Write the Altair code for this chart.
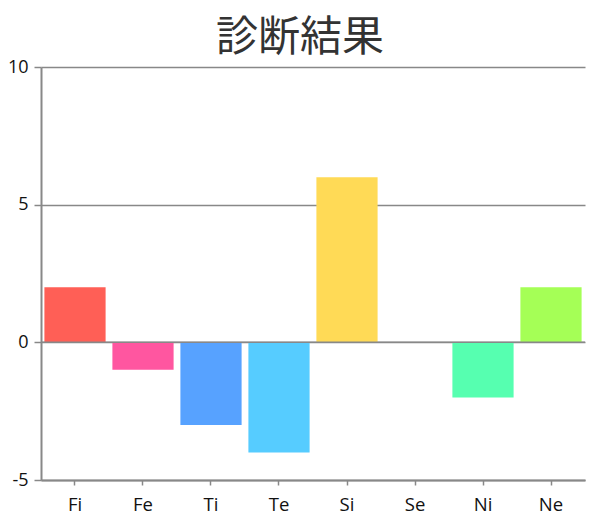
import altair as alt
import pandas as pd

categories = ["Fi", "Fe", "Ti", "Te", "Si", "Se", "Ni", "Ne"]
values = [2, -1, -3, -4, 6, 0, -2, 2]
colors = ["#FF5F56", "#FF56A0", "#57A2FF", "#56CCFF", "#FFDA56", "#B056FF", "#56FFB0", "#A5FF56"]
y_ticks = [-5, 0, 5, 10]
title_text = "診断結果"

df = pd.DataFrame({"cat": categories, "val": values})
zero = pd.DataFrame({"z": [0]})

x_enc = alt.X(
    "cat:N",
    sort=categories,
    title=None,
    scale=alt.Scale(paddingInner=0.1, paddingOuter=0.05),
    axis=alt.Axis(
        labelAngle=0,
        labelFont="Open Sans",
        labelFontSize=18.5,
        labelColor="#111111",
        labelPadding=10,
        tickSize=5,
        tickColor="#888888",
        tickWidth=1.5,
        domainColor="#888888",
        domainWidth=2,
        grid=False,
    ),
)

bars = alt.Chart(df).mark_bar().encode(
    x=x_enc,
    y=alt.Y(
        "val:Q",
        title=None,
        scale=alt.Scale(domain=[-5, 10], nice=False, zero=False),
        axis=alt.Axis(
            values=y_ticks,
            labelExpr="datum.value + ''",
            labelFont="Open Sans",
            labelFontSize=18,
            labelColor="#111111",
            labelPadding=6,
            tickSize=7,
            tickColor="#888888",
            tickWidth=1.5,
            domainColor="#888888",
            domainWidth=2,
            grid=True,
            gridColor="#888888",
            gridWidth=1.5,
            gridOpacity=1,
        ),
    ),
    color=alt.Color("cat:N", sort=categories,
                    scale=alt.Scale(domain=categories, range=colors), legend=None),
)

zero_rule = alt.Chart(zero).mark_rule(color="#888888", strokeWidth=1.5).encode(y="z:Q")

chart = alt.layer(bars, zero_rule).properties(
    width=544,
    height=413,
    title=alt.TitleParams(
        title_text,
        font="Noto Sans CJK JP",
        fontSize=42,
        fontWeight="normal",
        color="#333333",
        anchor="middle",
        offset=-2,
        dx=-13,
    ),
    autosize=alt.AutoSizeParams(type="none"),
    padding={"left": 33, "top": 59, "right": 7, "bottom": 37},
).configure_view(stroke=None)

chart.save("out.html", embed_options={"renderer": "svg", "actions": False})
